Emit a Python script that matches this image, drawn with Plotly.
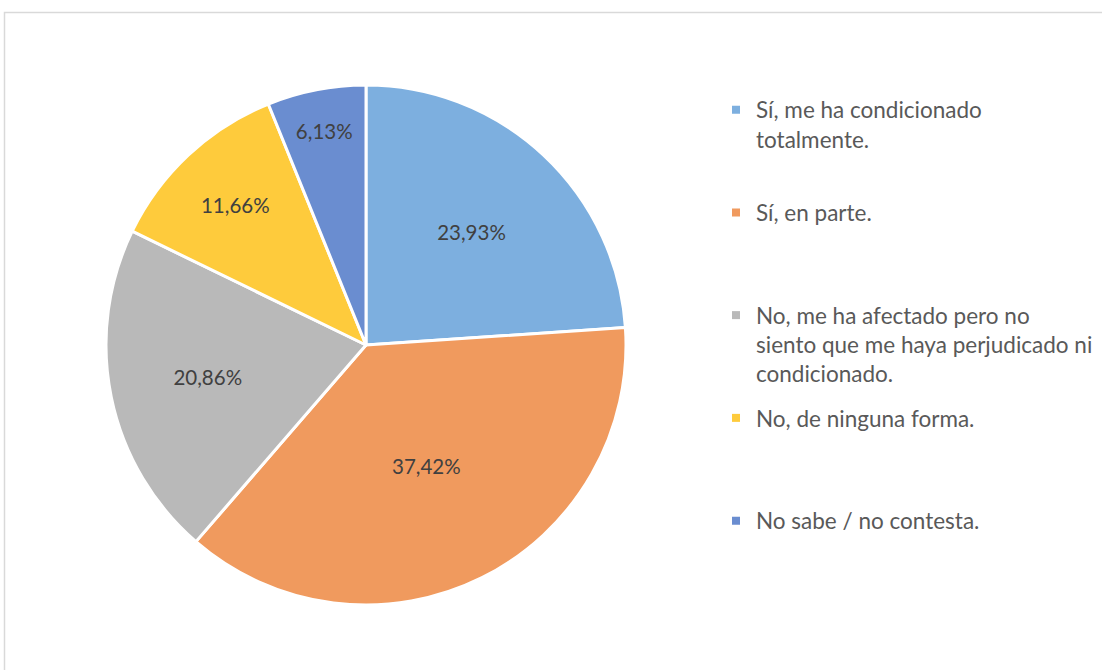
import plotly.graph_objects as go

categories = [
    "Sí, me ha condicionado<br>totalmente.",
    "Sí, en parte.",
    "No, me ha afectado pero no<br>siento que me haya perjudicado ni<br>condicionado.",
    "No, de ninguna forma.",
    "No sabe / no contesta.",
]
values = [23.93, 37.42, 20.86, 11.66, 6.13]
colors = ["#7DAFDF", "#F09A5E", "#B9B9B9", "#FECB3C", "#6A8DD0"]

W, H = 1102, 670
cx, cy, r = 366, 345, 260

fig = go.Figure()
fig.add_trace(go.Pie(
    labels=categories,
    values=values,
    sort=False,
    direction="clockwise",
    rotation=0,
    marker=dict(colors=colors, line=dict(color="white", width=3)),
    texttemplate="%{percent:.2%}",
    textposition="inside",
    insidetextorientation="horizontal",
    textfont=dict(family="Lato", size=20.5, color="#404040"),
    domain=dict(x=[(cx - r) / W, (cx + r) / W], y=[(H - cy - r) / H, (H - cy + r) / H]),
    hoverinfo="label+percent",
    showlegend=False,
))

# legend entries (one group per category so the spacing can follow the original)
for lab, col in zip(categories, colors):
    n_lines = lab.count("<br>") + 1
    pad = "<br> " * (3 - n_lines)
    fig.add_trace(go.Scatter(
        x=[None], y=[None], mode="markers",
        marker=dict(symbol="square", size=8, color=col),
        name=lab + pad, legendgroup=lab, showlegend=True, hoverinfo="skip",
    ))

fig.update_layout(
    width=W, height=H,
    margin=dict(l=0, r=0, t=0, b=0),
    paper_bgcolor="white",
    plot_bgcolor="white",
    separators=",.",
    xaxis=dict(visible=False),
    yaxis=dict(visible=False),
    legend=dict(
        x=716 / W, xanchor="left",
        y=1 - 88.5 / H, yanchor="top",
        valign="top",
        font=dict(family="Lato", size=22.5, color="#595959"),
        bgcolor="rgba(0,0,0,0)",
        tracegroupgap=12,
    ),
    shapes=[dict(
        type="rect", xref="paper", yref="paper",
        x0=4.5 / W, x1=1.02, y0=-0.02, y1=1 - 12.5 / H,
        line=dict(color="#D9D9D9", width=1.5), fillcolor="rgba(0,0,0,0)",
        layer="below",
    )],
)

fig.write_html("out.html")
